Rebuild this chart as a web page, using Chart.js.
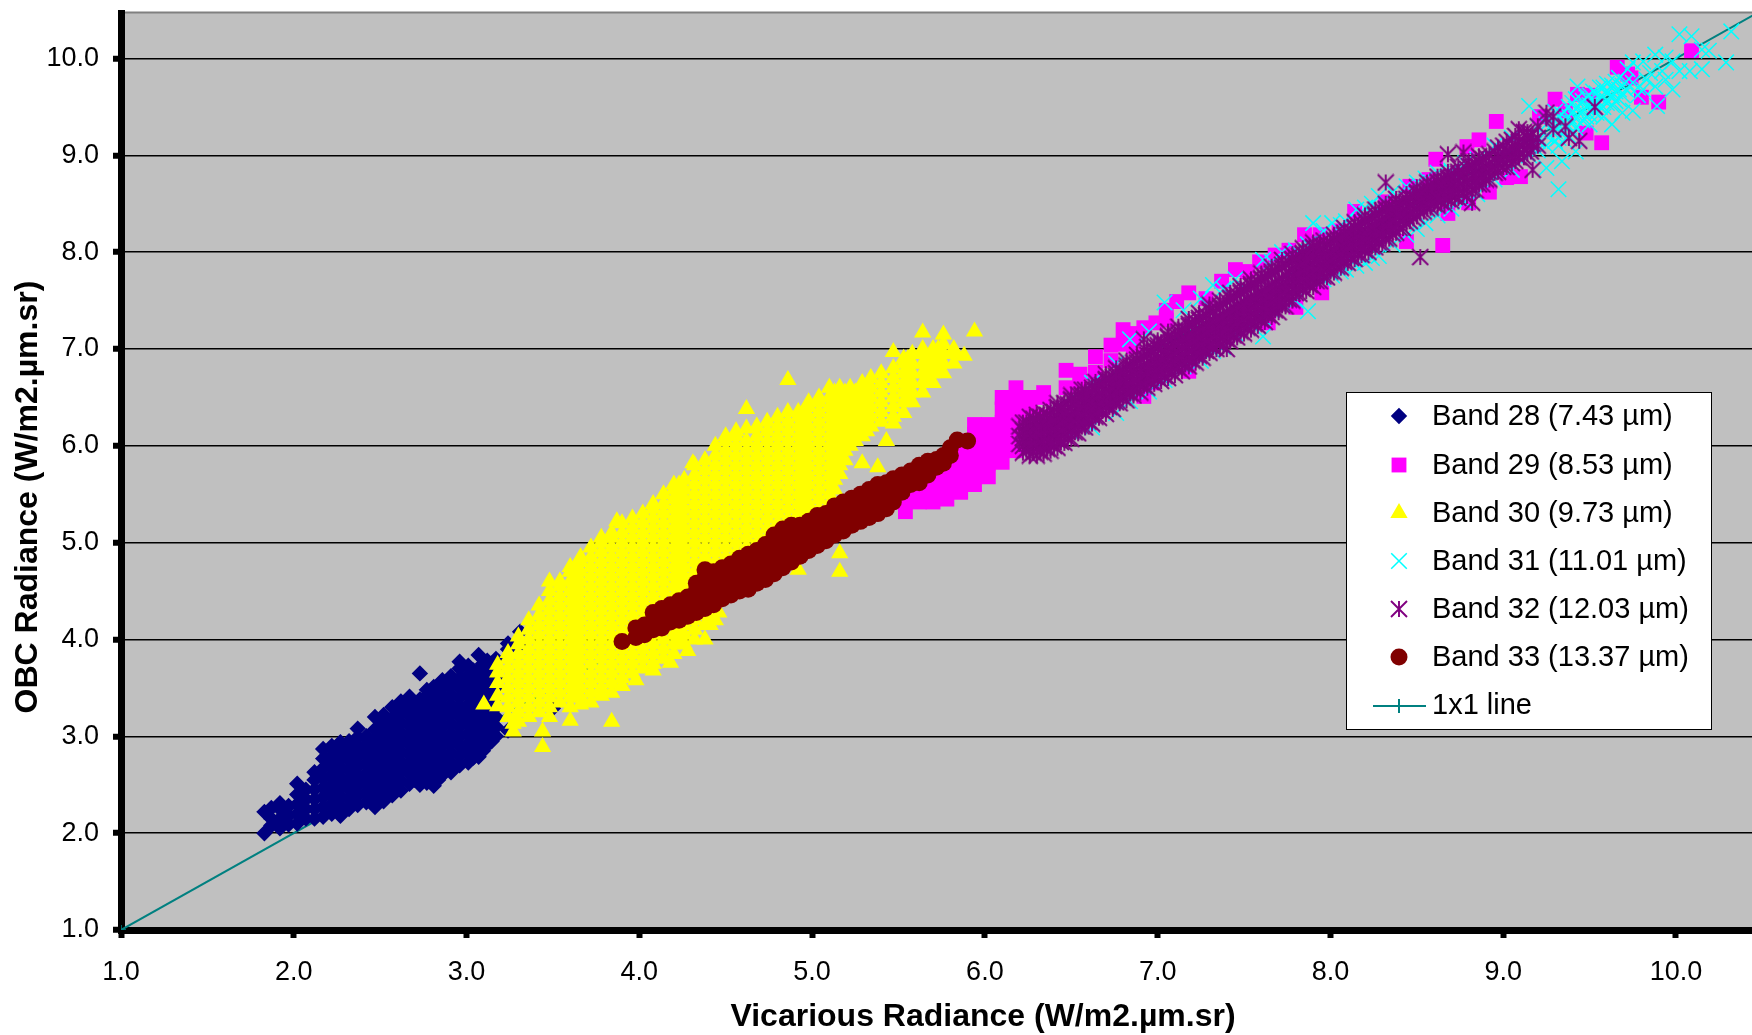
<!DOCTYPE html>
<html>
<head>
<meta charset="utf-8">
<title>OBC vs Vicarious Radiance</title>
<script src="https://cdn.jsdelivr.net/npm/chart.js@4"></script>
<style>
  html, body { margin: 0; padding: 0; background: #fff; overflow: hidden; }
  canvas { display: block; }
</style>
</head>
<body>
<canvas id="radianceChart" width="1752" height="1035"></canvas>
<script>
// values, each row is [x, [y, y, ...]]
const tickValues = [1, 2, 3, 4, 5, 6, 7, 8, 9, 10];
const lineValues = [1, 10.5];

const bandNames = ['Band 28 (7.43 µm)', 'Band 29 (8.53 µm)', 'Band 30 (9.73 µm)', 'Band 31 (11.01 µm)', 'Band 32 (12.03 µm)', 'Band 33 (13.37 µm)'];

const band28 = [
  [1.83,[2.00,2.22]],[1.87,[2.08,2.15,2.26]],[1.92,[2.05,2.15,2.25,2.31]],[1.97,[2.09,2.18,2.28]],
  [2.02,[2.10,2.20,2.30,2.40,2.51]],[2.07,[2.15,2.25,2.35,2.45]],[2.12,[2.15,2.25,2.35,2.45,2.55,2.63]],
  [2.17,[2.17,2.27,2.37,2.47,2.57,2.67,2.77,2.87]],[2.22,[2.20,2.30,2.40,2.50,2.60,2.70,2.80,2.90]],
  [2.27,[2.18,2.28,2.38,2.48,2.58,2.68,2.78,2.88,2.94]],[2.32,[2.25,2.35,2.45,2.55,2.65,2.75,2.85,2.95]],
  [2.37,[2.29,2.39,2.49,2.59,2.69,2.79,2.89,2.99,3.08]],[2.42,[2.32,2.42,2.52,2.62,2.72,2.82,2.92,3.00]],
  [2.47,[2.27,2.37,2.47,2.57,2.67,2.77,2.87,2.97,3.07,3.20]],[2.52,[2.33,2.43,2.53,2.63,2.73,2.83,2.93,3.03,3.13,3.22]],
  [2.57,[2.39,2.49,2.59,2.69,2.79,2.89,2.99,3.09,3.19,3.30]],[2.62,[2.44,2.54,2.64,2.74,2.84,2.94,3.04,3.14,3.24,3.36]],
  [2.67,[2.51,2.61,2.71,2.81,2.91,3.01,3.11,3.21,3.31,3.41]],[2.73,[2.50,2.60,2.70,2.80,2.90,3.00,3.10,3.20,3.30,3.38,3.65]],
  [2.77,[2.52,2.62,2.72,2.82,2.92,3.02,3.12,3.22,3.32,3.42,3.48]],[2.81,[2.49,2.59,2.69,2.79,2.89,2.99,3.09,3.19,3.29,3.39,3.51]],
  [2.86,[2.60,2.70,2.80,2.90,3.00,3.10,3.20,3.30,3.40,3.50,3.58]],[2.91,[2.63,2.73,2.83,2.93,3.03,3.13,3.23,3.33,3.43,3.53,3.62]],
  [2.96,[2.70,2.80,2.90,3.00,3.10,3.20,3.30,3.40,3.50,3.60,3.70,3.77]],[3.01,[2.73,2.83,2.93,3.03,3.13,3.23,3.33,3.43,3.53,3.63,3.73]],
  [3.07,[2.79,2.89,2.99,3.09,3.19,3.29,3.39,3.49,3.59,3.69,3.84]],[3.12,[2.91,3.01,3.11,3.21,3.31,3.41,3.51,3.61,3.71,3.78]],
  [3.17,[3.00,3.10,3.20,3.30,3.40,3.50,3.60,3.70,3.80]],[3.24,[3.06,3.96,3.90]],[3.31,[4.08,3.95]],[3.50,[3.29]]
];

const band28Inner = [
  [2.245,[2.25,2.35,2.45,2.55,2.65,2.75,2.85]],[2.70,[2.55,2.65,2.75,2.85,2.95,3.05,3.15,3.25,3.35]],
  [2.75,[2.55,2.65,2.75,2.85,2.95,3.05,3.15,3.25,3.35]],[2.835,[2.55,2.65,2.75,2.85,2.95,3.05,3.15,3.25,3.35,3.45]],
  [3.04,[2.78,2.88,2.98,3.08,3.18,3.28,3.38,3.48,3.58,3.68]],[3.095,[2.85,2.95,3.05,3.15,3.25,3.35,3.45,3.55,3.65,3.75]],
  [3.145,[2.95,3.05,3.15,3.25,3.35,3.45,3.55,3.65,3.75]]
];

const band29 = [
  [5.46,[5.42,5.50]],[5.54,[5.32,5.45,5.58]],[5.62,[5.42,5.55,5.68]],[5.70,[5.42,5.55,5.68,5.80]],
  [5.78,[5.45,5.58,5.72,5.85]],[5.86,[5.52,5.65,5.78,5.92,6.05]],[5.94,[5.60,5.72,5.85,5.98,6.12,6.22]],
  [6.02,[5.68,5.82,5.95,6.08,6.22]],[6.10,[5.83,5.97,6.10,6.24,6.38,6.50]],[6.18,[5.95,6.08,6.22,6.35,6.48,6.60]],
  [6.26,[6.00,6.15,6.28,6.42,6.50]],[6.34,[6.10,6.30,6.50,6.55]],[6.47,[6.78,6.60]],[6.55,[6.74,6.66]],[6.64,[6.92,6.76]],[6.73,[7.04,6.88]],
  [6.80,[7.20,7.05]],[6.86,[7.16,7.02]],[6.92,[7.22,6.51]],[6.97,[6.65]],[6.99,[7.27]],[7.05,[7.30,7.40]],[7.11,[7.49]],[7.18,[7.58,6.77]],[7.28,[7.52]],[7.37,[7.70]],[7.45,[7.82]],
  [7.52,[7.80]],[7.59,[7.90]],[7.64,[7.27]],[7.68,[7.97]],[7.76,[8.02]],[7.80,[7.43]],[7.85,[8.18]],[7.94,[8.18]],[7.95,[7.58]],[8.05,[8.22]],[8.14,[8.42]],[8.32,[8.52]],[8.44,[8.11]],
  [8.46,[8.68]],[8.57,[8.75]],[8.61,[8.96]],[8.65,[8.07]],[8.68,[8.40]],[8.79,[9.09]],[8.80,[8.51]],[8.86,[9.16]],[8.92,[8.62]],[8.96,[9.35]],
  [9.02,[8.77]],[9.10,[8.78]],[9.21,[9.40]],[9.30,[9.58]],[9.36,[9.46]],[9.43,[9.63]],[9.48,[9.23]],[9.50,[9.62]],[9.57,[9.13]],
  [9.66,[9.91]],[9.72,[9.84]],[9.74,[9.80]],[9.80,[9.60]],[9.90,[9.55]],[10.09,[10.08]]
];

const band30 = [
  [3.10,[3.33]],[3.18,[3.31,3.42,3.55,3.66,3.74]],[3.24,[3.20,3.30,3.40,3.50,3.60,3.70,3.80,3.86]],[3.27,[3.13,3.05]],
  [3.30,[3.15,3.25,3.35,3.45,3.55,3.65,3.75,3.85,3.95,4.03]],
  [3.36,[3.20,3.30,3.40,3.50,3.60,3.70,3.80,3.90,4.00,4.10,4.20]],
  [3.42,[3.25,3.35,3.45,3.55,3.65,3.75,3.85,3.95,4.05,4.15,4.25,4.35]],[3.44,[2.89,3.05]],
  [3.48,[3.20,3.30,3.40,3.50,3.60,3.70,3.80,3.90,4.00,4.10,4.20,4.30,4.40,4.50,4.60]],
  [3.54,[3.35,3.45,3.55,3.65,3.75,3.85,3.95,4.05,4.15,4.25,4.35,4.45,4.55,4.60]],
  [3.60,[3.16,3.30,3.40,3.50,3.60,3.70,3.80,3.90,4.00,4.10,4.20,4.30,4.40,4.50,4.60,4.70,4.75]],
  [3.66,[3.33,3.40,3.50,3.60,3.70,3.80,3.90,4.00,4.10,4.20,4.30,4.40,4.50,4.60,4.70,4.80,4.85]],
  [3.72,[3.35,3.45,3.55,3.65,3.75,3.85,3.95,4.05,4.15,4.25,4.35,4.45,4.55,4.65,4.75,4.85,4.95]],
  [3.78,[3.50,3.60,3.70,3.80,3.90,4.00,4.10,4.20,4.30,4.40,4.50,4.60,4.70,4.80,4.90,5.00,5.05]],
  [3.84,[3.15,3.45,3.55,3.65,3.75,3.85,3.95,4.05,4.15,4.25,4.35,4.45,4.55,4.65,4.75,4.85,4.95,5.05,5.10]],
  [3.90,[3.60,3.70,3.80,3.90,4.00,4.10,4.20,4.30,4.40,4.50,4.60,4.70,4.80,4.90,5.00,5.10,5.20]],
  [3.96,[3.65,3.75,3.85,3.95,4.05,4.15,4.25,4.35,4.45,4.55,4.65,4.75,4.85,4.95,5.05,5.15,5.25]],
  [4.02,[3.70,3.80,3.90,4.00,4.10,4.20,4.30,4.40,4.50,4.60,4.70,4.80,4.90,5.00,5.10,5.20,5.30]],
  [4.08,[3.75,3.85,3.95,4.05,4.15,4.25,4.35,4.45,4.55,4.65,4.75,4.85,4.95,5.05,5.15,5.25,5.35,5.40]],
  [4.14,[3.80,3.90,4.00,4.10,4.20,4.30,4.40,4.50,4.60,4.70,4.80,4.90,5.00,5.10,5.20,5.30,5.40,5.50]],
  [4.20,[3.85,3.95,4.05,4.15,4.25,4.35,4.45,4.55,4.65,4.75,4.85,4.95,5.05,5.15,5.25,5.35,5.45,5.55,5.60]],
  [4.26,[3.95,4.05,4.15,4.25,4.35,4.45,4.55,4.65,4.75,4.85,4.95,5.05,5.15,5.25,5.35,5.45,5.55,5.65]],
  [4.32,[4.00,4.10,4.20,4.30,4.40,4.50,4.60,4.70,4.80,4.90,5.00,5.10,5.20,5.30,5.40,5.50,5.60,5.70,5.80]],
  [4.38,[4.15,4.25,4.35,4.45,4.55,4.65,4.75,4.85,4.95,5.05,5.15,5.25,5.35,5.45,5.55,5.65,5.75,5.85]],
  [4.44,[4.20,4.30,4.40,4.50,4.60,4.70,4.80,4.90,5.00,5.10,5.20,5.30,5.40,5.50,5.60,5.70,5.80,5.90,6.00]],
  [4.50,[4.45,4.55,4.65,4.75,4.85,4.95,5.05,5.15,5.25,5.35,5.45,5.55,5.65,5.75,5.85,5.95,6.05,6.10]],
  [4.56,[4.50,4.60,4.70,4.80,4.90,5.00,5.10,5.20,5.30,5.40,5.50,5.60,5.70,5.80,5.90,6.00,6.10,6.15]],
  [4.62,[4.65,4.75,4.85,4.95,5.05,5.15,5.25,5.35,5.45,5.55,5.65,5.75,5.85,5.95,6.05,6.18,6.38]],
  [4.68,[4.70,4.80,4.90,5.00,5.10,5.20,5.30,5.40,5.50,5.60,5.70,5.80,5.90,6.00,6.10,6.20]],
  [4.74,[4.85,4.95,5.05,5.15,5.25,5.35,5.45,5.55,5.65,5.75,5.85,5.95,6.05,6.15,6.25]],
  [4.80,[4.90,5.00,5.10,5.20,5.30,5.40,5.50,5.60,5.70,5.80,5.90,6.00,6.10,6.20,6.30]],
  [4.86,[5.00,5.05,5.15,5.25,5.35,5.45,5.55,5.65,5.75,5.85,5.95,6.05,6.15,6.25,6.35,6.68]],
  [4.92,[4.72,5.00,5.10,5.20,5.30,5.40,5.50,5.60,5.70,5.80,5.90,6.00,6.10,6.20,6.30,6.35]],
  [4.98,[5.10,5.20,5.30,5.40,5.50,5.60,5.70,5.80,5.90,6.00,6.10,6.20,6.30,6.40,6.45]],
  [5.04,[5.15,5.25,5.35,5.45,5.55,5.65,5.75,5.85,5.95,6.05,6.15,6.25,6.35,6.45,6.50]],
  [5.10,[5.30,5.40,5.50,5.60,5.70,5.80,5.90,6.00,6.10,6.20,6.30,6.40,6.50,6.60]],
  [5.16,[4.70,4.89,5.71,5.80,5.90,6.00,6.10,6.20,6.30,6.40,6.50,6.60]],
  [5.22,[6.00,6.10,6.20,6.30,6.40,6.50,6.60]],[5.29,[5.82,6.10,6.20,6.30,6.40,6.50,6.60,6.65]],
  [5.34,[6.20,6.30,6.40,6.50,6.60,6.70]],[5.38,[5.78]],[5.40,[6.25,6.35,6.45,6.55,6.65,6.75]],[5.43,[6.05]],
  [5.47,[6.23,6.30,6.40,6.50,6.60,6.70,6.80,6.97]],[5.53,[6.34,6.45,6.55,6.65,6.75,6.85,6.90]],
  [5.58,[6.45,6.55,6.65,6.75,6.85,6.95]],[5.64,[6.55,6.65,6.75,6.85,6.95,7.00,7.17]],
  [5.70,[6.65,6.75,6.85,6.95,7.00]],[5.76,[6.75,6.85,6.95,7.05,7.15]],[5.82,[6.85,6.95,7.00]],[5.88,[6.93]],[5.94,[7.18]]
];

const band30Inner = [
  [3.63,[3.45,3.55,3.65,3.75,3.85,3.95,4.05,4.15,4.25,4.35,4.45,4.55,4.65,4.75]],
  [4.23,[3.95,4.05,4.15,4.25,4.35,4.45,4.55,4.65,4.75,4.85,4.95,5.05,5.15,5.25,5.35,5.45,5.55,5.60]],
  [4.95,[5.05,5.15,5.25,5.35,5.45,5.55,5.65,5.75,5.85,5.95,6.05,6.15,6.25,6.35]],
  [5.13,[5.55,5.65,5.75,5.85,5.95,6.05,6.15,6.25,6.35,6.45,6.55]],[5.19,[5.85,5.95,6.05,6.15,6.25,6.35,6.45,6.55]],
  [5.25,[6.05,6.15,6.25,6.35,6.45,6.55]],[5.315,[6.15,6.25,6.35,6.45,6.55]],[5.555,[6.50,6.60,6.70,6.80,6.90]],
  [5.67,[6.70,6.80,6.90]],[5.73,[6.80,6.90,7.00]],[4.41,[4.15]],[4.46,[4.28]],[3.87,[5.22]],[4.31,[5.82]],
  [3.78,[3.42]],[3.90,[3.52]],[3.98,[3.58]],[4.08,[3.68]],[4.18,[3.76]],[4.28,[3.88]],[4.38,[4.00]]
];

const band31 = [
  [6.50,[6.14]],[6.62,[6.19,6.65]],[6.76,[6.34,6.85]],[6.84,[7.10,6.46]],[6.95,[6.56,7.18]],[7.04,[7.48,6.68]],[7.15,[6.82,7.40]],
  [7.25,[6.88,7.52]],[7.32,[7.66,6.98]],[7.38,[7.02,7.62]],[7.45,[7.16,7.72]],[7.52,[7.22]],[7.61,[7.13,7.92,7.32]],[7.66,[7.40,7.90]],[7.72,[7.46,8.00]],[7.80,[7.50,8.02]],[7.87,[7.39,8.08]],[7.90,[8.30]],
  [7.96,[7.72,8.22]],[8.01,[8.30,7.76]],[8.06,[7.80,8.28]],[8.09,[7.82,8.32]],[8.15,[8.44,7.86]],[8.20,[7.89,8.46]],[8.24,[7.94,8.50]],[8.28,[7.96,8.58]],[8.36,[8.08,8.62]],
  [8.44,[8.68,8.18]],[8.50,[8.24,8.72]],[8.55,[8.30,8.76]],[8.62,[8.38,8.82]],[8.70,[8.45,8.84]],[8.78,[8.52,8.92]],[8.85,[8.60,8.96]],[8.95,[8.75,9.10]],[9.05,[8.85,9.18]],
  [9.15,[9.51,9.00,9.10,9.22]],[9.20,[9.05,9.15,9.30]],[9.25,[8.87,9.10,9.20,9.32,9.38]],[9.30,[9.15,9.25,9.35,9.45]],
  [9.32,[8.65,9.10,9.18,9.28,9.40]],[9.34,[8.94,9.22,9.32,9.42]],[9.38,[9.20,9.30,9.40,9.50]],[9.40,[9.24,9.34,9.44,9.54]],[9.42,[9.04,9.28,9.38,9.48,9.58]],[9.43,[9.71]],
  [9.46,[9.36,9.46,9.56]],[9.48,[9.40,9.50,9.60]],[9.50,[9.32,9.42,9.52,9.62]],[9.52,[9.46,9.56,9.66]],[9.54,[9.44,9.54,9.64]],[9.56,[9.50,9.60,9.70]],[9.58,[9.40,9.50,9.60,9.70]],[9.60,[9.54,9.64,9.74]],[9.63,[9.32,9.52,9.62,9.72]],
  [9.65,[9.56,9.66,9.76]],[9.67,[9.58,9.68,9.80]],[9.69,[9.44,9.62,9.72]],[9.71,[9.68,9.76]],[9.72,[9.89]],[9.75,[9.46,9.75,9.96]],[9.78,[9.62,9.70]],[9.81,[9.68,9.97]],
  [9.83,[9.78]],[9.85,[9.85]],[9.88,[9.71,10.04]],[9.89,[9.51]],[9.92,[9.87]],[9.94,[9.78,10.01]],[9.98,[9.68,9.97]],
  [10.02,[9.87,10.25]],[10.08,[9.87]],[10.09,[10.23]],[10.15,[9.89,10.09]],[10.19,[10.08]],[10.29,[9.96]],[10.32,[10.28]]
];

const band32 = [
  [6.20,[6.02,6.10,6.20]],[6.24,[5.96,6.03,6.10,6.17,6.24]],[6.28,[5.93,6.00,6.07,6.14,6.21,6.28]],[6.32,[5.94,6.01,6.08,6.15,6.22,6.30]],
  [6.36,[5.97,6.04,6.11,6.18,6.25,6.32]],[6.40,[6.00,6.07,6.14,6.21,6.28,6.35]],[6.44,[6.04,6.11,6.18,6.25,6.32,6.38]],
  [6.48,[6.08,6.15,6.22,6.29,6.36,6.43]],[6.52,[6.14,6.21,6.28,6.35,6.42,6.47]],[6.56,[6.20,6.27,6.34,6.41,6.48,6.52]],
  [6.60,[6.25,6.32,6.39,6.46,6.53]],[6.64,[6.30,6.37,6.44,6.51,6.58]],[6.68,[6.36,6.43,6.50,6.57,6.63]],[6.72,[6.40,6.47,6.54,6.61,6.68]],
  [6.76,[6.45,6.52,6.59,6.66,6.72]],[6.80,[6.50,6.57,6.64,6.71,6.76]],[6.84,[6.54,6.61,6.68,6.75,6.82]],[6.88,[6.58,6.65,6.72,6.79,6.86]],
  [6.92,[6.62,6.69,6.76,6.83,6.92,7.10]],[6.96,[6.66,6.73,6.80,6.87,6.96]],[7.00,[6.70,6.77,6.84,6.91,7.01]],[7.04,[6.72,6.79,6.86,6.93,7.06]],
  [7.08,[6.76,6.83,6.90,6.97,7.04,7.10]],[7.12,[6.80,6.87,6.94,7.01,7.08,7.15]],[7.16,[6.84,6.91,6.98,7.05,7.12,7.20]],[7.20,[6.88,6.95,7.02,7.09,7.16,7.25]],
  [7.24,[6.93,7.00,7.07,7.14,7.21,7.30]],[7.28,[6.98,7.05,7.12,7.19,7.26,7.35]],[7.32,[7.02,7.09,7.16,7.23,7.30,7.38]],[7.36,[7.05,7.12,7.19,7.26,7.33,7.43]],
  [7.40,[7.00,7.10,7.17,7.24,7.31,7.38,7.50]],[7.44,[7.14,7.21,7.28,7.35,7.42,7.53]],[7.48,[7.18,7.25,7.32,7.39,7.46,7.58]],[7.52,[7.22,7.29,7.36,7.43,7.50,7.62]],
  [7.56,[7.26,7.33,7.40,7.47,7.54,7.67]],[7.60,[7.30,7.37,7.44,7.51,7.58,7.72]],[7.64,[7.35,7.42,7.49,7.56,7.63,7.76]],[7.68,[7.40,7.47,7.54,7.61,7.68,7.80]],
  [7.72,[7.45,7.52,7.59,7.66,7.73,7.84]],[7.76,[7.51,7.58,7.65,7.72,7.79,7.89]],[7.80,[7.58,7.65,7.72,7.79,7.87,7.94]],[7.84,[7.62,7.69,7.76,7.83,7.90,7.98]],
  [7.88,[7.66,7.73,7.80,7.87,7.95,8.02]],[7.92,[7.70,7.77,7.84,7.91,7.98,8.05]],[7.96,[7.75,7.82,7.89,7.96,8.02]],[8.00,[7.80,7.87,7.94,8.01,8.10]],
  [8.04,[7.85,7.92,7.99,8.06,8.13]],[8.08,[7.90,7.97,8.04,8.11,8.18]],[8.12,[7.94,8.01,8.08,8.15,8.22]],[8.16,[7.98,8.05,8.12,8.19,8.27]],
  [8.20,[8.02,8.09,8.16,8.23,8.32]],[8.24,[8.06,8.13,8.20,8.27,8.35]],[8.28,[8.10,8.17,8.24,8.31,8.40]],[8.32,[8.14,8.21,8.28,8.35,8.44,8.72]],
  [8.36,[8.19,8.26,8.33,8.40,8.46]],[8.40,[8.25,8.32,8.39,8.46,8.50]],[8.44,[8.30,8.37,8.44,8.52]],[8.48,[8.35,8.42,8.49,8.56]],
  [8.52,[7.95,8.41,8.48,8.55,8.61]],[8.56,[8.45,8.52,8.59,8.64]],[8.60,[8.50,8.57,8.64,8.70]],[8.64,[8.52,8.59,8.66,8.73]],
  [8.68,[8.55,8.62,8.69,8.76,9.01]],[8.72,[8.57,8.64,8.71,8.78]],[8.77,[8.60,8.67,8.74,8.81,9.03]],[8.82,[8.51,8.65,8.72,8.79,8.88]],
  [8.86,[8.70,8.77,8.84,8.92]],[8.90,[8.75,8.82,8.89,8.98]],[8.95,[8.82,8.89,8.96,9.04]],[9.00,[8.88,8.95,9.02,9.10]],
  [9.05,[8.92,9.00,9.08,9.16]],[9.09,[8.98,9.06,9.14,9.27]],[9.14,[9.02,9.10,9.18,9.24]],[9.17,[8.85,9.12,9.22]],
  [9.20,[9.10,9.18,9.30]],[9.25,[9.44,9.38]],[9.29,[9.27,9.40]],[9.36,[9.30]],[9.38,[9.18]],[9.44,[9.15]],[9.53,[9.50]]
];

const band32Inner = [
  [6.22,[5.93,6.00,6.08,6.16,6.24]],[6.26,[5.90,5.98,6.06,6.14,6.22,6.30]],[6.30,[5.90,5.98,6.06,6.14,6.22,6.32]],[6.34,[5.92,6.00,6.08,6.16,6.24,6.34]],
  [6.38,[5.95,6.03,6.11,6.19,6.27,6.37]],[6.42,[5.98,6.06,6.14,6.22,6.30,6.40]],[6.46,[6.03,6.11,6.19,6.27,6.35,6.44]],[6.50,[6.07,6.15,6.23,6.31,6.39,6.48]],
  [6.54,[6.13,6.21,6.29,6.37,6.45,6.53]],[6.58,[6.19,6.27,6.35,6.43,6.51,6.58]],[6.62,[6.23,6.31,6.39,6.47,6.55,6.60]],[6.66,[6.29,6.37,6.45,6.53,6.62]],
  [6.70,[6.33,6.41,6.49,6.57,6.68]],[6.74,[6.38,6.46,6.54,6.62,6.71]],[6.78,[6.44,6.52,6.60,6.68,6.77]],[6.82,[6.47,6.55,6.63,6.71,6.80]],
  [6.86,[6.52,6.60,6.68,6.76,6.86]],[6.90,[6.55,6.63,6.71,6.79,6.90]],[6.94,[6.60,6.68,6.76,6.84,6.94]],[6.98,[6.64,6.72,6.80,6.88,6.98,7.04]],
  [7.02,[6.67,6.75,6.83,6.91,6.99,7.07]],[7.06,[6.70,6.78,6.86,6.94,7.02,7.12]],[7.10,[6.73,6.81,6.89,6.97,7.05,7.15]],[7.14,[6.77,6.85,6.93,7.01,7.09,7.19]],
  [7.18,[6.82,6.90,6.98,7.06,7.14,7.24]],[7.22,[6.86,6.94,7.02,7.10,7.18,7.28]],[7.26,[6.91,6.99,7.07,7.15,7.23,7.33]],[7.30,[6.96,7.04,7.12,7.20,7.28,7.39]],
  [7.34,[7.00,7.08,7.16,7.24,7.32,7.42]],[7.38,[7.03,7.11,7.19,7.27,7.35,7.47]],[7.42,[7.08,7.16,7.24,7.32,7.40,7.52]],[7.46,[7.12,7.20,7.28,7.36,7.44,7.56]],
  [7.50,[7.16,7.24,7.32,7.40,7.48,7.61]],[7.54,[7.20,7.28,7.36,7.44,7.52,7.65]],[7.58,[7.24,7.32,7.40,7.48,7.56,7.70]],[7.62,[7.28,7.36,7.44,7.52,7.60,7.74]],
  [7.66,[7.33,7.41,7.49,7.57,7.65,7.78]],[7.70,[7.38,7.46,7.54,7.62,7.70,7.83]],[7.74,[7.44,7.52,7.60,7.68,7.76,7.87]],[7.78,[7.50,7.58,7.66,7.74,7.82,7.92]],
  [7.82,[7.57,7.65,7.73,7.81,7.89,7.96]],[7.86,[7.60,7.68,7.76,7.84,7.92,8.00]],[7.90,[7.64,7.72,7.80,7.88,7.96,8.05]],[7.94,[7.70,7.78,7.86,7.94,8.02,8.08]],
  [7.98,[7.74,7.82,7.90,7.98,8.08]],[8.02,[7.79,7.87,7.95,8.03,8.12]],[8.06,[7.84,7.92,8.00,8.08,8.16]],[8.10,[7.89,7.97,8.05,8.13,8.21]],
  [8.14,[7.93,8.01,8.09,8.17,8.25]],[8.18,[7.97,8.05,8.13,8.21,8.30]],[8.22,[8.00,8.08,8.16,8.24,8.34]],[8.26,[8.05,8.13,8.21,8.29,8.38]],
  [8.30,[8.09,8.17,8.25,8.33,8.43]],[8.34,[8.14,8.22,8.30,8.38,8.46]],[8.38,[8.20,8.28,8.36,8.44,8.49]],[8.42,[8.25,8.33,8.41,8.51]],
  [8.46,[8.32,8.40,8.48,8.56]],[8.50,[8.37,8.45,8.53,8.61]],[8.54,[8.42,8.50,8.58,8.64]],[8.58,[8.46,8.54,8.62,8.69]],
  [8.62,[8.48,8.56,8.64,8.72]],[8.66,[8.50,8.58,8.66,8.75]],[8.70,[8.53,8.61,8.69,8.78]],[8.74,[8.56,8.64,8.72,8.81]],
  [8.79,[8.58,8.66,8.74,8.86]],[8.84,[8.64,8.72,8.80,8.90]],[8.88,[8.70,8.78,8.86,8.96]],[8.92,[8.75,8.83,8.91,9.01]],
  [8.97,[8.83,8.91,8.99,9.08]],[9.02,[8.88,8.96,9.04,9.14]],[9.07,[8.94,9.02,9.10,9.20]],[9.12,[8.98,9.06,9.14,9.24]],[9.16,[9.04,9.12,9.20]]
];

// upper fringe of band 32, the cloud sits a little above the inner rows here
const band32Upper = [
  [6.42,[6.39,6.44]],[6.50,[6.47,6.52]],[6.56,[6.53,6.58]],[6.64,[6.61,6.66]],[6.70,[6.69,6.74]],[6.76,[6.75,6.80]],[6.82,[6.83,6.88]],[6.88,[6.89,6.94]],
  [6.94,[6.97,7.02]],[7.00,[7.04,7.09]],[7.06,[7.13,7.18]],[7.12,[7.18,7.23]],[7.18,[7.26,7.31]],[7.24,[7.32,7.37]],[7.30,[7.41,7.46]],[7.36,[7.45,7.50]],
  [7.42,[7.53,7.58]],[7.48,[7.60,7.65]],[7.54,[7.67,7.72]],[7.60,[7.73,7.78]],[7.66,[7.80,7.85]],[7.72,[7.87,7.92]],[7.78,[7.93,7.98]],[7.84,[7.99,8.04]],
  [7.90,[8.05,8.10]],[7.96,[8.07,8.12]],[8.02,[8.13,8.18]],[8.08,[8.20,8.25]],[8.14,[8.26,8.31]],[8.20,[8.33,8.38]],[8.26,[8.39,8.44]],[8.32,[8.45,8.50]],
  [8.38,[8.50,8.55]],[8.44,[8.55,8.60]],[8.50,[8.62,8.67]],[8.56,[8.67,8.72]],[8.62,[8.73,8.78]],[8.68,[8.78,8.83]],[8.74,[8.83,8.88]],[8.80,[8.89,8.94]],[8.86,[8.94,8.99]]
];

const band33 = [
  [3.90,[3.98]],[3.98,[4.02,4.12]],[4.03,[4.05,4.15]],[4.08,[4.10,4.20,4.28]],[4.13,[4.12,4.22,4.32]],[4.18,[4.18,4.28,4.36]],
  [4.23,[4.20,4.30,4.40]],[4.28,[4.24,4.34,4.44]],[4.33,[4.28,4.38,4.50,4.58]],[4.38,[4.32,4.45,4.55,4.64,4.72]],[4.43,[4.36,4.50,4.60,4.70]],
  [4.48,[4.42,4.55,4.65,4.74]],[4.53,[4.46,4.60,4.70,4.78]],[4.58,[4.50,4.58,4.68,4.78,4.84]],[4.63,[4.52,4.62,4.72,4.80,4.88]],
  [4.68,[4.58,4.72,4.82,4.92]],[4.73,[4.62,4.70,4.80,4.90,4.98]],[4.78,[4.68,4.76,4.82,4.92,5.02,5.08]],[4.83,[4.74,4.80,4.88,4.98,5.08,5.14]],
  [4.88,[4.80,4.84,4.94,5.04,5.14,5.18]],[4.93,[4.86,4.94,5.00,5.10,5.18]],[4.98,[4.92,5.00,5.05,5.15,5.22]],[5.03,[4.97,5.05,5.12,5.22,5.28]],
  [5.08,[5.02,5.10,5.15,5.25,5.30]],[5.13,[5.08,5.16,5.22,5.30,5.38]],[5.18,[5.12,5.20,5.27,5.35,5.42]],[5.23,[5.18,5.26,5.32,5.40,5.46]],[5.28,[5.22,5.28,5.36,5.44,5.50]],
  [5.33,[5.26,5.32,5.42,5.48,5.55]],[5.38,[5.30,5.38,5.48,5.54,5.60]],[5.43,[5.35,5.45,5.55,5.62]],[5.47,[5.42,5.50,5.58,5.66]],[5.52,[5.52,5.62,5.70]],
  [5.57,[5.60,5.68,5.74]],[5.62,[5.62,5.72,5.80]],[5.67,[5.70,5.78,5.84]],[5.72,[5.78,5.86]],[5.76,[5.82,5.90]],[5.80,[5.90,5.98]],
  [5.84,[6.06]],[5.90,[6.05]]
];

function toPoints(rows) {
    const pts = [];
    rows.forEach(r => r[1].forEach(y => pts.push({ x: r[0], y: y })));
    return pts;
}

// Excel's star marker, an X with an upright stroke
function makeStar(size, lw) {
    const c = document.createElement('canvas');
    c.width = size; c.height = size;
    const g = c.getContext('2d');
    const m = size / 2, r = m - 1;
    g.strokeStyle = '#800080';
    g.lineWidth = lw;
    g.beginPath();
    g.moveTo(m - r, m - r); g.lineTo(m + r, m + r);
    g.moveTo(m - r, m + r); g.lineTo(m + r, m - r);
    g.moveTo(m, m - r); g.lineTo(m, m + r);
    g.stroke();
    return c;
}
const starPoint = makeStar(18, 1.9);

const markers = [
    { pointStyle: 'rectRot', radius: 6.8, fill: '#000080', stroke: '#000080', lw: 2 },
    { pointStyle: 'rect', radius: 10.5, fill: '#FF00FF', stroke: '#FF00FF', lw: 0 },
    { pointStyle: 'triangle', radius: 8, fill: '#FFFF00', stroke: '#FFFF00', lw: 2 },
    { pointStyle: 'crossRot', radius: 11, fill: '#00FFFF', stroke: '#00FFFF', lw: 1.5 },
    { pointStyle: starPoint, radius: 9, fill: '#800080', stroke: '#800080', lw: 1 },
    { pointStyle: 'circle', radius: 8.5, fill: '#800000', stroke: '#800000', lw: 0 }
];

const bandData = [[...band28, ...band28Inner], band29, [...band30, ...band30Inner], band31, [...band32, ...band32Inner, ...band32Upper], band33];

const datasets = bandData.map((rows, i) => ({
    label: bandNames[i],
    data: toPoints(rows),
    showLine: false,
    pointStyle: markers[i].pointStyle,
    pointRadius: markers[i].radius,
    pointBackgroundColor: markers[i].fill,
    pointBorderColor: markers[i].stroke,
    pointBorderWidth: markers[i].lw,
    order: 6 - i
}));

datasets.push({
    label: '1x1 line',
    data: lineValues.map(v => ({ x: v, y: v })),
    showLine: true,
    borderColor: '#008080',
    borderWidth: 2,
    pointStyle: 'cross',
    pointRadius: 5,
    pointBorderColor: '#008080',
    pointBorderWidth: 1.5,
    order: 7
});

const tickFont = { family: '"Liberation Sans", Arial, sans-serif', size: 27 };
const keepTicks = scale => { scale.ticks = tickValues.map(v => ({ value: v })); };

// plot background, top edge, axis titles and the boxed legend
const framePlugin = {
    id: 'frame',
    beforeDraw(chart) {
        const a = chart.chartArea, c = chart.ctx;
        c.save();
        c.fillStyle = '#C0C0C0';
        c.fillRect(a.left, a.top, a.right - a.left, a.bottom - a.top);
        c.fillStyle = '#808080';
        c.fillRect(a.left - 3, a.top - 1.5, a.right - a.left + 3, 2);
        c.restore();
    },
    afterDraw(chart) {
        const c = chart.ctx;
        c.save();
        c.fillStyle = '#000';
        c.textBaseline = 'middle';
        c.textAlign = 'center';
        c.font = 'bold 32px "Liberation Sans", Arial, sans-serif';
        c.fillText('Vicarious Radiance (W/m2.µm.sr)', 983, 1017);
        c.translate(28, 497);
        c.rotate(-Math.PI / 2);
        c.fillText('OBC Radiance (W/m2.µm.sr)', 0, 0);
        c.restore();

        c.save();
        c.fillStyle = '#fff';
        c.strokeStyle = '#000';
        c.lineWidth = 1;
        c.fillRect(1346.5, 392.5, 365, 337);
        c.strokeRect(1346.5, 392.5, 365, 337);
        c.font = '29px "Liberation Sans", Arial, sans-serif';
        c.textBaseline = 'middle';
        c.textAlign = 'left';
        const rowY = [416, 465, 513, 561, 609, 657];
        datasets.slice(0, 6).forEach((d, i) => {
            c.fillStyle = markers[i].fill;
            c.strokeStyle = markers[i].stroke;
            c.lineWidth = markers[i].lw;
            Chart.helpers.drawPoint(c, { pointStyle: markers[i].pointStyle, radius: markers[i].radius, borderWidth: markers[i].lw }, 1399, rowY[i]);
            c.fillStyle = '#000';
            c.fillText(d.label, 1432, rowY[i] + 1);
        });
        c.strokeStyle = '#008080';
        c.lineWidth = 2;
        c.beginPath();
        c.moveTo(1373, 706); c.lineTo(1426, 706);
        c.moveTo(1399, 699); c.lineTo(1399, 713);
        c.stroke();
        c.fillStyle = '#000';
        c.fillText('1x1 line', 1432, 706);
        c.restore();
    }
};

new Chart(document.getElementById('radianceChart'), {
    type: 'scatter',
    data: { datasets: datasets },
    plugins: [framePlugin],
    options: {
        responsive: false,
        animation: false,
        layout: { autoPadding: false, padding: { top: 13, right: 0, left: 0, bottom: 0 } },
        plugins: { legend: { display: false }, tooltip: { enabled: false } },
        scales: {
            x: {
                type: 'linear',
                min: 1,
                max: 10.44,
                afterBuildTicks: keepTicks,
                afterFit(s) { s.height = 105; s.paddingLeft = 0; s.paddingRight = 0; },
                border: { color: '#000', width: 7 },
                grid: { drawOnChartArea: false, drawTicks: true, tickLength: 8, tickWidth: 6, tickColor: '#000' },
                ticks: { color: '#000', font: tickFont, padding: 18, maxRotation: 0, autoSkip: false, callback: v => v.toFixed(1) }
            },
            y: {
                type: 'linear',
                min: 1,
                max: 10.47,
                afterBuildTicks: keepTicks,
                afterFit(s) { s.width = 121; s.paddingTop = 0; s.paddingBottom = 0; },
                border: { color: '#000', width: 7 },
                grid: { color: '#000', lineWidth: 1.5, drawTicks: true, tickLength: 8, tickWidth: 6, tickColor: '#000' },
                ticks: { color: '#000', font: tickFont, padding: 14, autoSkip: false, callback: v => v.toFixed(1) }
            }
        }
    }
});
</script>
</body>
</html>
